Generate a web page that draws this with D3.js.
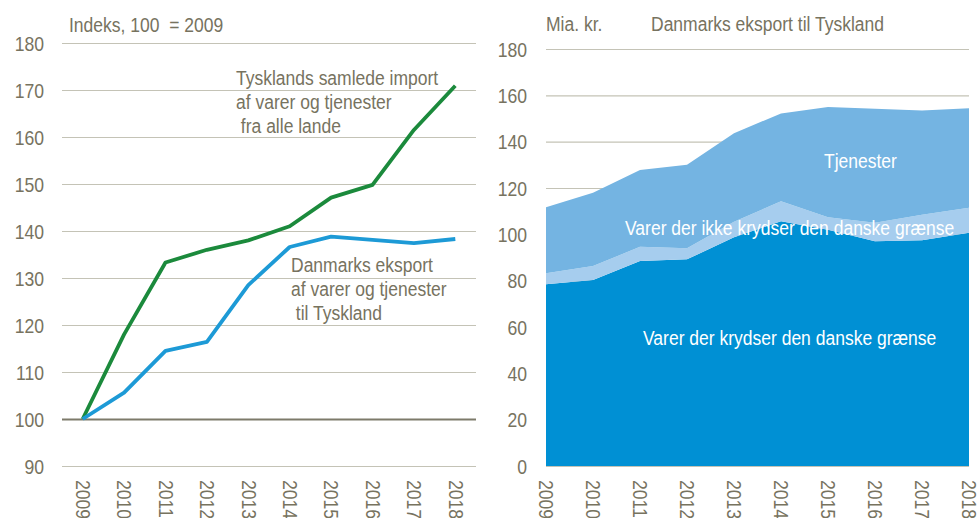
<!DOCTYPE html>
<html>
<head>
<meta charset="utf-8">
<script src="https://cdn.jsdelivr.net/npm/d3@7"></script>
<style>
  body { margin: 0; background: #fff; }
  svg text { font-family: "Liberation Sans", Arial, sans-serif; white-space: pre; }
</style>
</head>
<body>
<script>
// data
const years = [2009, 2010, 2011, 2012, 2013, 2014, 2015, 2016, 2017, 2018];
const importIdx = [100, 118, 133.3, 136, 138, 141, 147.1, 149.8, 161.5, 170.9];
const exportIdx = [100, 105.6, 114.5, 116.4, 128.5, 136.6, 138.8, 138.1, 137.4, 138.3];
const goodsCross = [78.4, 80.3, 88.5, 89.2, 98.7, 105.7, 102, 97, 97.5, 100.7];
const goodsNotCross = [4.8, 6.0, 6.1, 4.8, 6.7, 8.6, 5.4, 8.0, 11.0, 10.8];
const services = [28.5, 31.7, 33.2, 36.0, 38.2, 37.9, 47.6, 49.2, 44.9, 42.9];
const leftTicks = [90, 100, 110, 120, 130, 140, 150, 160, 170, 180];
const rightTicks = [0, 20, 40, 60, 80, 100, 120, 140, 160, 180];

const w = 980, h = 518;
const textCol = "#77735f", gridCol = "#c4c3b6";
const narrow = 0.875; // no Arial Narrow installed, squeeze Liberation Sans

const svg = d3.select("body").append("svg")
  .attr("width", w)
  .attr("height", h);

// text helper, squeezed horizontally
const label = (x, y, s, col) => svg.append("text")
  .attr("transform", "translate(" + x + "," + y + ") scale(" + narrow + ",1)")
  .attr("fill", col || textCol).style("font-size", "20px")
  .text(s);

const styleY = g => g.selectAll("text")
  .attr("fill", textCol).style("font-size", "20px")
  .attr("x", 0).attr("dy", "0.36em")
  .attr("transform", "scale(0.88,1)");

const styleX = g => g.selectAll("text")
  .attr("fill", textCol).style("font-size", "20px")
  .attr("text-anchor", "start")
  .attr("transform", "rotate(90) scale(0.88,1)")
  .attr("x", 0).attr("y", 0).attr("dy", "0.36em");

// ---------- left chart ----------
const xL = d3.scalePoint().domain(years).range([62, 476]).padding(0.5);
const yL = d3.scaleLinear().domain([90, 180]).range([466, 43]);

// gridlines
svg.append("g")
  .attr("transform", "translate(62,0)")
  .call(d3.axisLeft(yL).tickValues(leftTicks).tickSize(-414).tickFormat(""))
  .call(g => g.select(".domain").remove())
  .call(g => g.selectAll(".tick line")
    .attr("stroke", d => d === 100 ? "#7d7a6a" : gridCol)
    .attr("stroke-width", d => d === 100 ? 2 : 1.2));

// y labels
svg.append("g")
  .attr("transform", "translate(44,0)")
  .call(d3.axisLeft(yL).tickValues(leftTicks).tickSize(0).tickPadding(0))
  .call(g => g.select(".domain").remove())
  .call(styleY);

// x labels
svg.append("g")
  .attr("transform", "translate(0,480)")
  .call(d3.axisBottom(xL).tickSize(0).tickPadding(0))
  .call(g => g.select(".domain").remove())
  .call(styleX);

const lineL = d3.line().x((d, i) => xL(years[i])).y(d => yL(d));

svg.append("path").datum(importIdx)
  .attr("d", lineL).attr("fill", "none")
  .attr("stroke", "#1b8a3c").attr("stroke-width", 3.8).attr("stroke-linejoin", "round");
svg.append("path").datum(exportIdx)
  .attr("d", lineL).attr("fill", "none")
  .attr("stroke", "#1d9ad6").attr("stroke-width", 3.8).attr("stroke-linejoin", "round");

label(69, 32, "Indeks, 100  = 2009");

const annot = (x, y, lines) => lines.forEach((s, i) => label(x, y + i * 24, s));
annot(236, 85, ["Tysklands samlede import", "af varer og tjenester", " fra alle lande"]);
annot(291, 272, ["Danmarks eksport", "af varer og tjenester", " til Tyskland"]);

// ---------- right chart ----------
const xR = d3.scalePoint().domain(years).range([546, 969]);
const yR = d3.scaleLinear().domain([0, 180]).range([466, 49]);

svg.append("g")
  .attr("transform", "translate(546,0)")
  .call(d3.axisLeft(yR).tickValues(rightTicks).tickSize(-423).tickFormat(""))
  .call(g => g.select(".domain").remove())
  .call(g => g.selectAll(".tick line").attr("stroke", gridCol).attr("stroke-width", 1.2));

svg.append("g")
  .attr("transform", "translate(527,0)")
  .call(d3.axisLeft(yR).tickValues(rightTicks).tickSize(0).tickPadding(0))
  .call(g => g.select(".domain").remove())
  .call(styleY);

svg.append("g")
  .attr("transform", "translate(0,480)")
  .call(d3.axisBottom(xR).tickSize(0).tickPadding(0))
  .call(g => g.select(".domain").remove())
  .call(styleX);

const rows = years.map((y, i) => ({
  year: y, cross: goodsCross[i], notCross: goodsNotCross[i], serv: services[i]
}));
const keys = ["cross", "notCross", "serv"];
const colors = { cross: "#0090d4", notCross: "#a6cdee", serv: "#74b4e2" };
const stacked = d3.stack().keys(keys)(rows);

const area = d3.area()
  .x(d => xR(d.data.year))
  .y0(d => yR(d[0]))
  .y1(d => yR(d[1]));

svg.selectAll(".layer")
  .data(stacked)
  .enter()
  .append("path")
  .attr("class", "layer")
  .attr("fill", d => colors[d.key])
  .attr("d", area);

label(546, 31, "Mia. kr.");
label(651, 31, "Danmarks eksport til Tyskland");

label(824, 168, "Tjenester", "#fff");
label(625, 235, "Varer der ikke krydser den danske grænse", "#fff");
label(643, 345, "Varer der krydser den danske grænse", "#fff");
</script>
</body>
</html>
